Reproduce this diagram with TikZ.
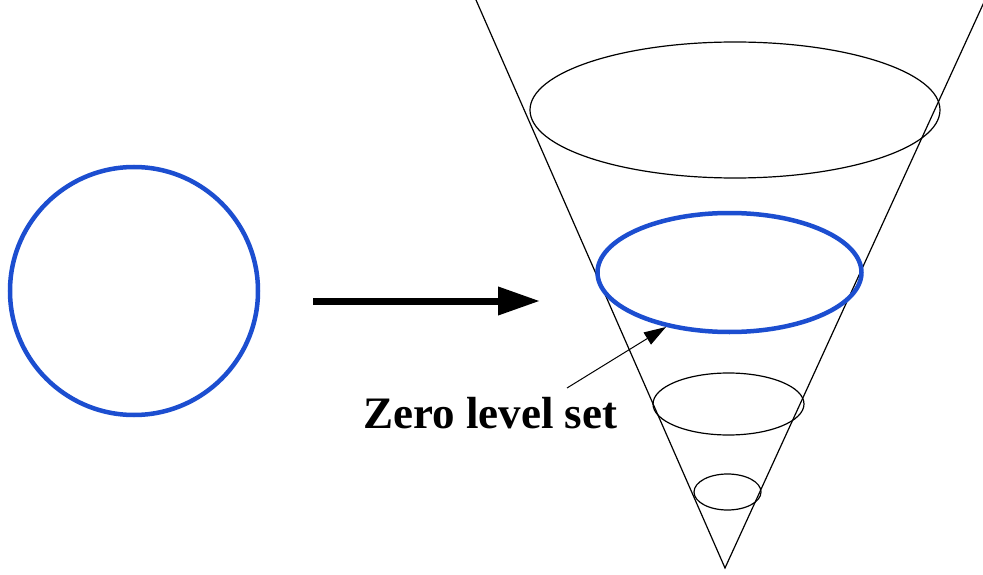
\documentclass[tikz,border=0pt]{standalone}
\usepackage{fontspec}
\setmainfont{Liberation Serif}
\usetikzlibrary{arrows.meta,shapes.geometric}
\definecolor{lsblue}{RGB}{28,78,208}
\begin{document}
\begin{tikzpicture}[x=1pt,y=-1pt,
  thinline/.style={line width=1.2pt,black},
  blueline/.style={line width=4.5pt,lsblue},
  levelring/.style={draw,ellipse,inner sep=0pt,thinline}]
\useasboundingbox[fill=white] (0,0) rectangle (983,575);
% left circle
\node[draw,ellipse,inner sep=0pt,blueline,minimum width=248pt,minimum height=248pt] (circ) at (134,291) {};
% main arrow
\coordinate (astart) at (313,301);
\coordinate (aend) at (540,301);
\draw[line width=7pt,-{Triangle[length=42pt,width=27pt]}] (astart) -- (aend);
% cone
\coordinate (apex) at (725,568);
\coordinate (ltop) at (476,0);
\coordinate (rtop) at (985,0);
\draw[thinline] (ltop) -- (apex) -- (rtop);
% level rings
\node[levelring,minimum width=410pt,minimum height=136pt] (top) at (735,110) {};
\node[levelring,minimum width=151pt,minimum height=62pt] (mid) at (728.5,404) {};
\node[levelring,minimum width=67pt,minimum height=36pt] (low) at (727.5,492) {};
\node[draw,ellipse,inner sep=0pt,blueline,minimum width=264pt,minimum height=119pt] (zls) at (729.5,272.5) {};
% label
\node[anchor=base west,inner sep=0pt,font=\fontsize{45}{50}\selectfont\bfseries] (lbl) at (363,428) {Zero level set};
\coordinate (lstart) at (567,388);
\coordinate (ltip) at (666,327);
\draw[line width=1pt,-{Triangle[length=22pt,width=14pt]}] (lstart) -- (ltip);
\end{tikzpicture}
\end{document}
